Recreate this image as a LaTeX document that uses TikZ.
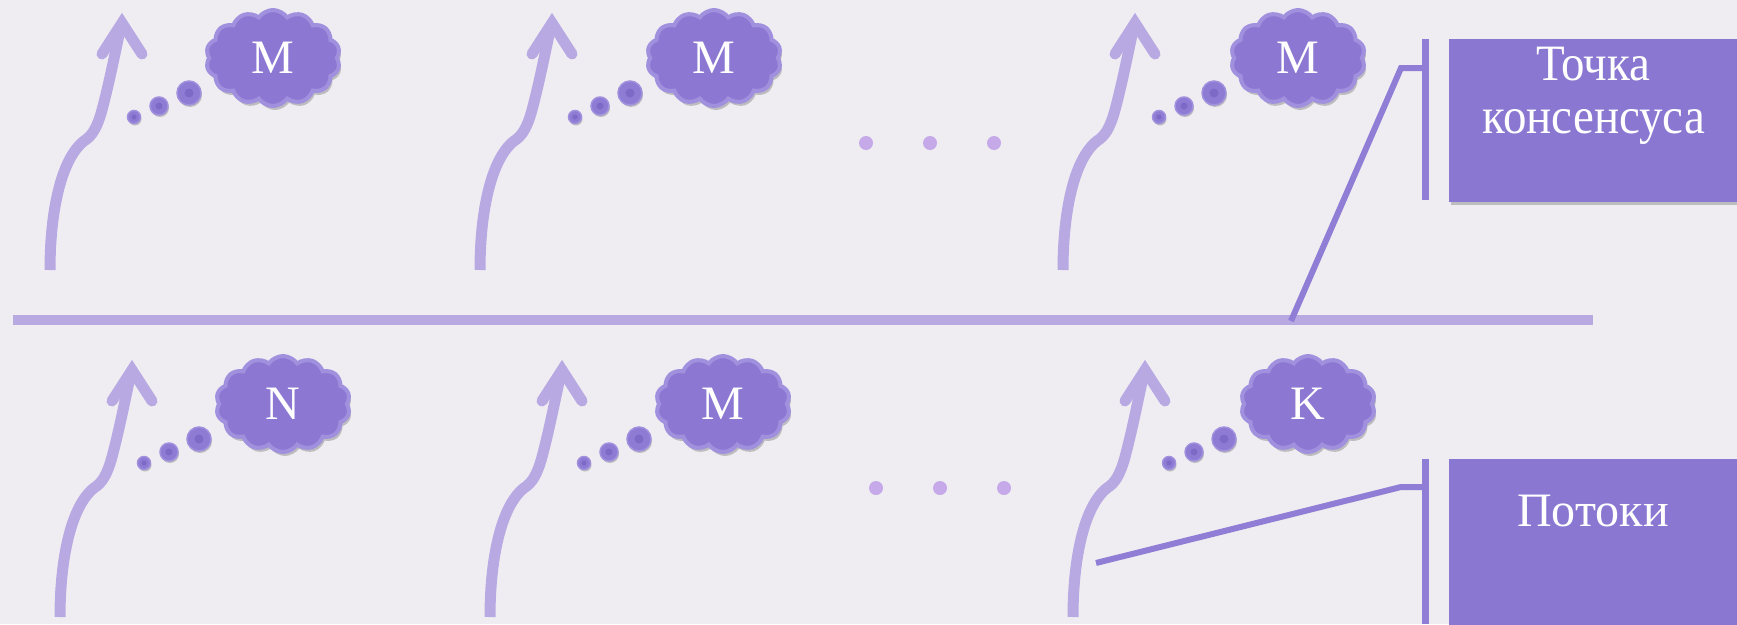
\documentclass[tikz,border=0pt]{standalone}
\usepackage{fontspec}
\setmainfont{Liberation Serif}
\newfontfamily\tallserif[FakeStretch=0.92]{Liberation Serif}
\usetikzlibrary{shapes.symbols,shadows}
\definecolor{bgc}{HTML}{EFEDF2}
\definecolor{arrowc}{HTML}{B9A9E3}
\definecolor{cloudc}{HTML}{8C78D3}
\definecolor{cloudrim}{HTML}{A190DE}
\definecolor{boxc}{HTML}{8A77D1}
\definecolor{linkc}{HTML}{8F7DD6}
\definecolor{dotc}{HTML}{C6A9E8}
\definecolor{bubc}{HTML}{8E7BD4}
\definecolor{bubin}{HTML}{7D69C6}
\tikzset{
  flow/.pic={
    \draw[arrowc, line width=11pt, line cap=butt]
      (0,0) .. controls (0,-55) and (10,-110) .. (34,-129)
      .. controls (42,-134) and (47,-142) .. (52,-160)
      .. controls (60,-190) and (66,-222) .. (71,-244);
    \draw[arrowc, line width=11pt, line cap=round, line join=miter]
      (52,-216) -- (72,-247) -- (92,-216);
  },
  thought/.style={cloud, cloud puffs=14, cloud puff arc=110, aspect=1.4,
    minimum width=134pt, minimum height=96pt, inner sep=0pt,
    fill=cloudc, draw=cloudrim, line width=4pt, text=white,
    font=\fontsize{48}{48}\selectfont,
    drop shadow={shadow xshift=2pt, shadow yshift=-4pt, opacity=0.3, fill=black!70}},
  bubble/.style={circle, inner sep=0pt, fill=bubc, draw=cloudrim, line width=1.5pt,
    drop shadow={shadow xshift=1pt, shadow yshift=-2pt, opacity=0.3, fill=black!70}},
  dotn/.style={circle, inner sep=0pt, minimum size=14pt, fill=dotc},
  callbox/.style={rectangle, inner sep=0pt, fill=boxc, anchor=north west,
    drop shadow={shadow xshift=2pt, shadow yshift=-3pt, opacity=0.3, fill=black!70}},
  lbl/.style={text=white, font=\fontsize{48}{55}\selectfont, anchor=base, inner sep=0pt},
  tlbl/.style={lbl, font=\tallserif\fontsize{51}{55}\selectfont},
  bar/.style={linkc, line width=7pt},
  link/.style={linkc, line width=6pt, line join=miter},
  axisline/.style={arrowc, line width=10pt}
}
\begin{document}
\begin{tikzpicture}[x=1pt, y=-1pt]
\useasboundingbox (0,0) rectangle (1737,624);
\fill[bgc] (0,0) rectangle (1737,624);

% horizontal line
\coordinate (hl) at (13,320);
\coordinate (hr) at (1593,320);
\draw[axisline] (hl) -- (hr);

% groups
\foreach \ax/\ay/\cx/\cy/\lab/\n in {50/270/273/58/M/t1, 480/270/714/58/M/t2, 1063/270/1298/58/M/t3,
                                     60/617/283/404/N/b1, 490/617/723/404/M/b2, 1073/617/1308/404/K/b3}{
  \pic at (\ax,\ay) {flow};
  \node[bubble, minimum size=13pt] (s\n) at (\cx-139,\cy+59) {};
  \node[bubble, minimum size=18pt] (m\n) at (\cx-114,\cy+48) {};
  \node[bubble, minimum size=24pt] (l\n) at (\cx-84,\cy+35) {};
  \fill[bubin] (s\n.center) circle (2.5pt);
  \fill[bubin] (m\n.center) circle (3.5pt);
  \fill[bubin] (l\n.center) circle (4.5pt);
  \node[thought] (c\n) at (\cx,\cy) {\lab};
}

% ellipsis dots
\node[dotn] (d1) at (866,143) {};
\node[dotn] (d2) at (930,143) {};
\node[dotn] (d3) at (994,143) {};
\node[dotn] (d4) at (876,488) {};
\node[dotn] (d5) at (940,488) {};
\node[dotn] (d6) at (1004,488) {};

% callout: consensus point
\node[callbox, minimum width=290pt, minimum height=163pt] (box1) at (1449,39) {};
\coordinate (bar1t) at (1425,39);
\coordinate (bar1b) at (1425,200);
\coordinate (bar1m) at (1425,68);
\coordinate (k1) at (1401,68);
\coordinate (cp) at (1291,321);
\draw[bar] (bar1t) -- (bar1b);
\draw[link] (cp) -- (k1) -- (bar1m);
\node[tlbl] (txt1a) at (1593,80) {Точка};
\node[tlbl] (txt1b) at (1594,133) {консенсуса};

% callout: threads
\node[callbox, minimum width=290pt, minimum height=166pt] (box2) at (1449,459) {};
\coordinate (bar2t) at (1425,459);
\coordinate (bar2b) at (1425,624);
\coordinate (bar2m) at (1425,487);
\coordinate (k2) at (1401,487);
\coordinate (fp) at (1096,563);
\draw[bar] (bar2t) -- (bar2b);
\draw[link] (fp) -- (k2) -- (bar2m);
\node[lbl] (txt2) at (1593,526) {Потоки};
\end{tikzpicture}
\end{document}
